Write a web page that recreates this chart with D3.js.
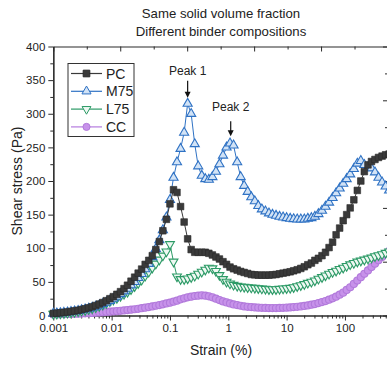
<!DOCTYPE html>
<html><head><meta charset="utf-8">
<script src="https://cdn.jsdelivr.net/npm/d3@7"></script>
<style>
html,body{margin:0;padding:0;background:#fff;}
svg{display:block;font-family:"Liberation Sans",Arial,sans-serif;}
</style></head><body>
<svg id="chart" width="387" height="365"></svg>
<script>
// Amplitude sweep: shear strain (%) at each measuring point
const strain = [
  0.001, 0.00115, 0.00132, 0.00152, 0.00175, 0.00201, 0.00231, 0.00266, 0.00305, 0.00351,
  0.00404, 0.00464, 0.00534, 0.00614, 0.00705, 0.00811, 0.00933, 0.0107, 0.0123, 0.0142,
  0.0163, 0.0187, 0.0215, 0.0248, 0.0285, 0.0327, 0.0376, 0.0433, 0.0498, 0.0572,
  0.0658, 0.0756, 0.087, 0.1, 0.115, 0.132, 0.152, 0.175, 0.201, 0.231,
  0.266, 0.305, 0.351, 0.404, 0.464, 0.534, 0.614, 0.705, 0.811, 0.933,
  1.07, 1.23, 1.42, 1.63, 1.87, 2.15, 2.48, 2.85, 3.27, 3.76,
  4.33, 4.98, 5.72, 6.58, 7.56, 8.7, 10, 11.5, 13.2, 15.2,
  17.5, 20.1, 23.1, 26.6, 30.5, 35.1, 40.4, 46.4, 53.4, 61.4,
  70.5, 81.1, 93.3, 107, 123, 142, 163, 187, 215, 248,
  285, 327, 376, 433, 498, 572
];

// Shear stress (Pa) for each binder composition
const stressPC = [
  3.1, 3.5, 4.0, 4.6, 5.2, 6.0, 6.8, 7.7, 8.8, 10,
  11.4, 13, 14.9, 17, 19.3, 22, 25, 28, 31.5, 35.5,
  40, 45, 51, 57, 63, 69, 76, 82, 89, 98,
  110, 126, 143, 166, 187, 183, 162, 139, 114, 98,
  94, 94, 94, 94, 92.5, 90, 87, 84, 80, 76,
  72, 69.5, 67.5, 65.5, 64, 62.5, 61, 60.5, 60, 60,
  60, 60, 60.5, 61, 62, 63, 64, 65, 66.5, 68,
  70, 72.5, 75.5, 78, 82, 85, 89, 94, 101, 109,
  120, 130, 141, 150, 160, 172, 186, 200, 214, 224,
  229, 232, 235, 237, 239, 240
];
const stressM75 = [
  2.9, 3.3, 3.7, 4.2, 4.8, 5.5, 6.2, 7.0, 8.0, 9.1,
  10.3, 11.7, 13.3, 15.1, 17.2, 19.5, 22, 25, 28, 32,
  36, 40, 45, 50, 56, 62, 69, 77, 87, 99,
  112, 127, 146, 172, 205, 228, 248, 272, 315, 300,
  255, 222, 208, 203, 202, 206, 214, 225, 238, 250,
  256, 253, 228, 206, 193, 184, 176, 170, 163, 158,
  155, 152, 150, 148.5, 147, 146, 145, 144, 143.5, 143,
  143, 143, 144, 145, 147, 151, 156, 162, 168, 175,
  182, 189, 196, 203, 210, 218, 226, 230, 224, 220,
  219, 213, 205, 198, 192, 186
];
const stressL75 = [
  2.3, 2.6, 3.0, 3.4, 3.9, 4.5, 5.2, 6.0, 6.9, 7.9,
  9.1, 10.5, 12.1, 13.9, 16, 18.3, 21, 23.5, 26, 29,
  32, 35, 39, 43.5, 48, 53, 59, 65, 71, 77,
  83, 89, 95, 106, 80, 58, 54, 54, 55, 57,
  59, 62, 65, 68, 71, 70, 66, 60, 54, 50,
  47.5, 45.5, 44, 43, 42.5, 42, 41.5, 41, 40.5, 40,
  39.5, 39, 39, 39, 39.5, 40, 40.5, 41, 42, 43.5,
  45, 46.5, 48.5, 50, 52, 54.5, 57, 59.5, 62, 64.5,
  66.5, 69, 71, 73.5, 76, 78, 80, 81.5, 83, 84.5,
  86, 88, 89.5, 91, 93, 95
];
const stressCC = [
  1.5, 1.6, 1.8, 1.9, 2.1, 2.3, 2.5, 2.7, 2.9, 3.2,
  3.5, 3.8, 4.1, 4.4, 4.8, 5.2, 5.6, 6.0, 6.5, 7.0,
  7.5, 8.1, 8.7, 9.3, 10, 10.8, 11.6, 12.5, 13.5, 14.5,
  15.6, 16.7, 17.9, 19.1, 20.5, 22, 24, 25.5, 27, 28,
  29, 29.5, 30, 29.5, 28.5, 27, 25, 23, 21, 19.5,
  18, 16.5, 15.5, 14.5, 13.5, 13, 12.5, 12, 11.7, 11.4,
  11.2, 11, 11, 11, 11.2, 11.4, 11.7, 12, 12.5, 13,
  13.5, 14.2, 15, 16, 17, 18.5, 20, 21.5, 23.5, 25.5,
  28, 31, 34, 38, 42, 47, 52, 57, 62, 67,
  72, 77, 82, 87, 92, 96
];

const seriesNames = ["PC", "M75", "L75", "CC"];
const xTickValues = [0.001, 0.01, 0.1, 1, 10, 100];
const xTickLabels = ["0.001", "0.01", "0.1", "1", "10", "100"];
const yTickValues = [0, 50, 100, 150, 200, 250, 300, 350, 400];
const titleLines = ["Same solid volume fraction", "Different binder compositions"];
const peakLabels = ["Peak 1", "Peak 2"];
const peakStrain = [0.201, 1.1];

// ---- layout ----
const svg = d3.select("#chart");
const plotL = 53.3, plotR = 388, plotT = 46.5, plotB = 315.5;
const x = d3.scaleLog().domain([0.001, 547]).range([plotL, plotR]);
const y = d3.scaleLinear().domain([0, 400]).range([plotB, plotT]);
const ink = "#2b2b2b";

// title
svg.append("g").selectAll("text").data(titleLines).join("text")
  .attr("x", 221).attr("y", (d, i) => 18 + i * 18)
  .attr("text-anchor", "middle").attr("font-size", 13.2).attr("fill", "#222")
  .text(d => d);

// bottom axis: decades + minor ticks
const minorX = [];
xTickValues.forEach(d => { for (let k = 2; k <= 9; k++) if (d * k <= 547) minorX.push(d * k); });
const gx = svg.append("g").attr("transform", `translate(0,${plotB})`);
gx.call(d3.axisBottom(x).tickValues(xTickValues).tickFormat((d, i) => xTickLabels[i])
  .tickSize(5).tickSizeOuter(0).tickPadding(3));
gx.append("g").call(d3.axisBottom(x).tickValues(minorX).tickFormat("").tickSize(3).tickSizeOuter(0));

// left axis
const minorY = d3.range(25, 400, 50);
const gy = svg.append("g").attr("transform", `translate(${plotL},0)`);
gy.call(d3.axisLeft(y).tickValues(yTickValues).tickSize(5).tickSizeOuter(0).tickPadding(3));
gy.append("g").call(d3.axisLeft(y).tickValues(minorY).tickFormat("").tickSize(3).tickSizeOuter(0));

// top and right frame ticks (unlabelled, pointing inward)
const frameTop = d3.scaleLinear().domain([0, 10]).range([plotL, plotR]);
const frameRight = d3.scaleLinear().domain([0, 10]).range([plotB, plotT]);
const gt = svg.append("g").attr("transform", `translate(0,${plotT})`);
gt.call(d3.axisBottom(frameTop).tickValues(d3.range(0, 11)).tickFormat("")
  .tickSize(0).tickSizeOuter(0));
gt.selectAll(".tick line").attr("y2", d => d % 2 === 0 ? 5 : 3);
const gr = svg.append("g").attr("transform", `translate(${plotR},0)`);
gr.call(d3.axisRight(frameRight).tickValues(d3.range(0, 11)).tickFormat("")
  .tickSize(0).tickSizeOuter(0));
gr.selectAll(".tick line").attr("x2", d => d % 2 === 0 ? -5 : -3);

svg.selectAll(".domain").attr("stroke", ink).attr("stroke-width", 1.2);
svg.selectAll(".tick line").attr("stroke", ink);
svg.selectAll(".tick text").attr("font-size", 11.5).attr("fill", "#222")
  .attr("font-family", "Liberation Sans, Arial, sans-serif");

// axis titles
svg.append("text").attr("x", 221).attr("y", 355).attr("text-anchor", "middle")
  .attr("font-size", 14).attr("fill", "#222").text("Strain (%)");
svg.append("text").attr("transform", `translate(22,${(plotT + plotB) / 2}) rotate(-90)`)
  .attr("text-anchor", "middle").attr("font-size", 14).attr("fill", "#222")
  .text("Shear stress (Pa)");

// ---- series ----
const styles = {
  PC:  {values: stressPC,  line: "#3a3a3a", fill: "#3a3a3a", stroke: "#2a2a2a", sym: d3.symbolSquare, size: 44, rot: 0},
  M75: {values: stressM75, line: "#2f72c4", fill: "#d2e3f6", stroke: "#2f72c4", sym: d3.symbolTriangle, size: 36, rot: 0},
  L75: {values: stressL75, line: "#2c9a66", fill: "#eef8f2", stroke: "#2c9a66", sym: d3.symbolTriangle, size: 34, rot: 180},
  CC:  {values: stressCC,  line: "#b57bde", fill: "#c792ea", stroke: "#b27adb", sym: d3.symbolCircle, size: 40, rot: 0}
};
const drawOrder = ["CC", "L75", "M75", "PC"];
const line = d3.line().x(d => x(d[0])).y(d => y(d[1]));

drawOrder.forEach(name => {
  const s = styles[name];
  const pts = strain.map((v, i) => [v, s.values[i]]);
  const g = svg.append("g");
  g.append("path").datum(pts).attr("d", line).attr("fill", "none")
    .attr("stroke", s.line).attr("stroke-width", 1);
  g.selectAll("path.pt").data(pts).join("path").attr("class", "pt")
    .attr("d", d3.symbol().type(s.sym).size(s.size))
    .attr("transform", d => `translate(${x(d[0])},${y(d[1])}) rotate(${s.rot})`)
    .attr("fill", s.fill).attr("stroke", s.stroke).attr("stroke-width", name === "PC" ? 0.6 : 1.1);
});

// ---- peak annotations on the M75 curve ----
const arrowGap = [6, 7], arrowLen = [17, 15], textGap = [6, 10];
peakLabels.forEach((lab, k) => {
  const sx = x(peakStrain[k]);
  const idx = d3.minIndex(strain, v => Math.abs(Math.log(v) - Math.log(peakStrain[k])));
  const tip = y(stressM75[idx]) - arrowGap[k];
  const tail = tip - arrowLen[k];
  svg.append("line").attr("x1", sx).attr("x2", sx).attr("y1", tail).attr("y2", tip - 5)
    .attr("stroke", "#111").attr("stroke-width", 1.2);
  svg.append("path").attr("d", `M${sx - 3},${tip - 6}L${sx + 3},${tip - 6}L${sx},${tip}Z`).attr("fill", "#111");
  svg.append("text").attr("x", sx).attr("y", tail - textGap[k]).attr("text-anchor", "middle")
    .attr("font-size", 12).attr("fill", "#222").text(lab);
});

// ---- legend ----
const lg = svg.append("g").attr("transform", "translate(68,63.5)");
lg.append("rect").attr("width", 66).attr("height", 73).attr("fill", "#fff")
  .attr("stroke", "#333").attr("stroke-width", 1);
seriesNames.forEach((name, i) => {
  const s = styles[name];
  const yy = 10 + i * 17.8;
  lg.append("line").attr("x1", 3).attr("x2", 34).attr("y1", yy).attr("y2", yy)
    .attr("stroke", s.line).attr("stroke-width", 1.2);
  lg.append("path").attr("d", d3.symbol().type(s.sym).size(s.size))
    .attr("transform", `translate(18.5,${yy}) rotate(${s.rot})`)
    .attr("fill", s.fill).attr("stroke", s.stroke).attr("stroke-width", 1);
  lg.append("text").attr("x", 38).attr("y", yy + 5).attr("font-size", 14)
    .attr("fill", "#222").text(name);
});
</script>
</body></html>
